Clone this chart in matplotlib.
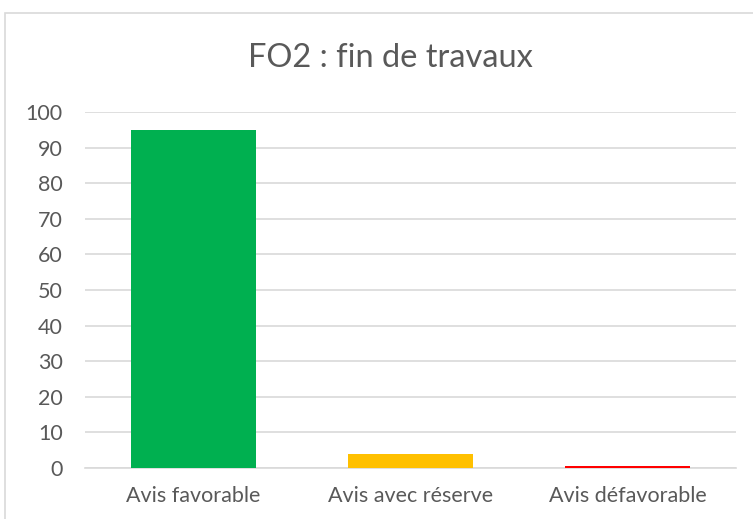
import matplotlib.pyplot as plt
from matplotlib.patches import Rectangle

categories = ["Avis favorable", "Avis avec réserve", "Avis défavorable"]
values = [95, 4, 0.7]
colors = ["#00B050", "#FFC000", "#FF0000"]
y_ticks = list(range(0, 101, 10))

W, H = 753, 519
fig = plt.figure(figsize=(W / 100, H / 100), dpi=100)
plt.rcParams['font.family'] = ['Lato', 'DejaVu Sans']

# chart frame (cropped at right and bottom in the reference)
fig.patches.append(Rectangle((5 / W, -0.1), 1.2, (H - 13) / H + 0.1,
                             transform=fig.transFigure, fill=False,
                             edgecolor="#D9D9D9", linewidth=1.2))

left, right, top, bottom = 85, 736, 112, 468
ax = fig.add_axes([left / W, 1 - bottom / H, (right - left) / W, (bottom - top) / H])

x = range(len(categories))
ax.bar(x, values, width=0.576, color=colors, zorder=3)
ax.set_xlim(-0.5, 2.5)
ax.set_ylim(0, 100)
ax.set_yticks(y_ticks)
ax.set_xticks(list(x))
ax.set_xticklabels(categories)
ax.yaxis.grid(True, color="#D9D9D9", linewidth=1.2, zorder=0)
for s in ["top", "right", "left"]:
    ax.spines[s].set_visible(False)
ax.spines["bottom"].set_color("#D9D9D9")
ax.spines["bottom"].set_linewidth(1.2)
ax.tick_params(axis="both", length=0, labelsize=15.5, colors="#595959")
ax.tick_params(axis="y", pad=16)
ax.tick_params(axis="x", pad=13)

fig.text(0.518, 1 - 58 / H, "FO2 : fin de travaux", ha="center", va="center",
         fontsize=23.5, color="#595959")

fig.savefig("out.png", dpi=100)
